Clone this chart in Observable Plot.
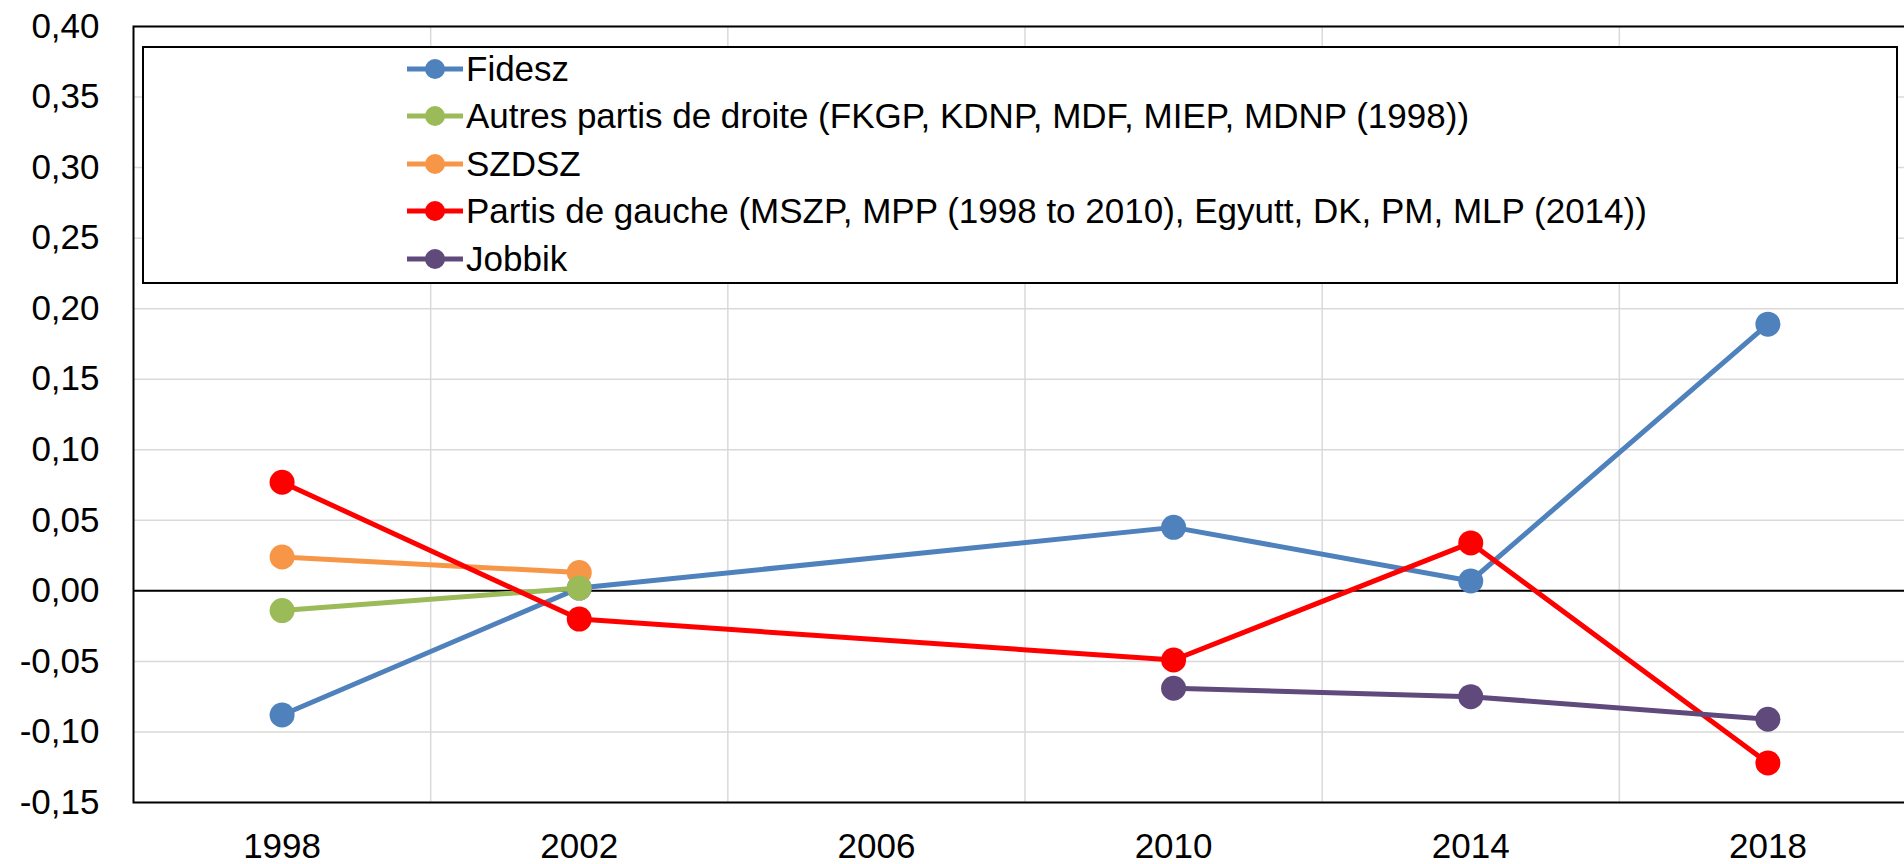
<!DOCTYPE html>
<html><head><meta charset="utf-8">
<script src="https://cdn.jsdelivr.net/npm/d3@7"></script>
<script src="https://cdn.jsdelivr.net/npm/@observablehq/plot@0.6"></script>
<style>
html,body{margin:0;background:#fff;overflow:hidden;font-family:"Liberation Sans",Arial,sans-serif;}
#wrap{position:relative;width:1904px;height:864px;overflow:hidden;}
#chart{width:1917px;}
#chart svg{max-width:none !important;width:1917px !important;height:864px !important;}
#legend{position:absolute;left:142px;top:46px;width:1752px;height:234px;border:2px solid #000;background:#fff;box-sizing:content-box;}
.row{position:absolute;left:263px;height:40px;display:flex;align-items:center;font-size:35px;color:#000;white-space:nowrap;}
.row span{margin-left:3px;}
</style>
</head><body>
<div id="wrap"><div id="chart"></div><div id="legend"></div></div>
<script>
// Series names (legend order) and colours
const seriesNames = [
  "Fidesz",
  "Autres partis de droite (FKGP, KDNP, MDF, MIEP, MDNP (1998))",
  "SZDSZ",
  "Partis de gauche (MSZP, MPP (1998 to 2010), Egyutt, DK, PM, MLP (2014))",
  "Jobbik"
];
const seriesColors = ["#4F81BD", "#9BBB59", "#F79646", "#FF0000", "#604A7B"];

// Values per series
const fideszYears = [1998, 2002, 2010, 2014, 2018];
const fideszValues = [-0.088, 0.002, 0.045, 0.007, 0.189];
const autresYears = [1998, 2002];
const autresValues = [-0.014, 0.002];
const szdszYears = [1998, 2002];
const szdszValues = [0.024, 0.013];
const gaucheYears = [1998, 2002, 2010, 2014, 2018];
const gaucheValues = [0.077, -0.020, -0.049, 0.034, -0.122];
const jobbikYears = [2010, 2014, 2018];
const jobbikValues = [-0.069, -0.075, -0.091];

// Axis ticks
const xTicks = [1998, 2002, 2006, 2010, 2014, 2018];
const xGrid = [2000, 2004, 2008, 2012, 2016];
const yTicks = [-0.15, -0.10, -0.05, 0.00, 0.05, 0.10, 0.15, 0.20, 0.25, 0.30, 0.35, 0.40];

const seriesData = [
  {name: seriesNames[0], years: fideszYears, values: fideszValues},
  {name: seriesNames[1], years: autresYears, values: autresValues},
  {name: seriesNames[2], years: szdszYears, values: szdszValues},
  {name: seriesNames[3], years: gaucheYears, values: gaucheValues},
  {name: seriesNames[4], years: jobbikYears, values: jobbikValues}
].map(s => ({name: s.name, rows: s.years.map((y, i) => ({year: y, value: s.values[i], series: s.name}))}));

// drawing order (later on top)
const drawOrder = [0, 2, 1, 3, 4];
const seriesMarks = [];
for (const i of drawOrder) {
  const s = seriesData[i];
  seriesMarks.push(Plot.line(s.rows, {x: "year", y: "value", stroke: "series", strokeWidth: 5}));
  seriesMarks.push(Plot.dot(s.rows, {x: "year", y: "value", fill: "series", r: 12.5}));
}

const fmt = d => (d < 0 ? "-" : "") + Math.abs(d).toFixed(2).replace(".", ",");

const chart = Plot.plot({
  width: 1917,
  height: 864,
  marginLeft: 133,
  marginRight: 1,
  marginTop: 26,
  marginBottom: 62,
  style: {fontFamily: '"Liberation Sans", Arial, sans-serif', fontSize: "35px", color: "#000", background: "#fff", maxWidth: "none"},
  x: {domain: [1996, 2020], ticks: xTicks, tickFormat: d => String(d), tickSize: 0, tickPadding: 31, label: null},
  y: {domain: [-0.15, 0.40], ticks: yTicks, tickFormat: fmt, tickSize: 0, tickPadding: 34, label: null},
  color: {domain: seriesNames, range: seriesColors},
  marks: [
    Plot.ruleY(yTicks, {stroke: "#d9d9d9", strokeWidth: 1.5}),
    Plot.ruleX(xGrid, {stroke: "#d9d9d9", strokeWidth: 1.5}),
    Plot.ruleY([0], {stroke: "#000", strokeWidth: 2}),
    Plot.frame({stroke: "#000", strokeWidth: 2}),
    ...seriesMarks
  ]
});
document.getElementById("chart").appendChild(chart);

// Legend overlay
const legend = document.getElementById("legend");
const rowCenters = [21, 68, 116, 163, 211];
seriesNames.forEach((name, i) => {
  const row = document.createElement("div");
  row.className = "row";
  row.style.top = (rowCenters[i] - 20) + "px";
  row.innerHTML = `<svg width="56" height="40"><line x1="0" x2="56" y1="20" y2="20" stroke="${seriesColors[i]}" stroke-width="5"/><circle cx="28" cy="20" r="10" fill="${seriesColors[i]}"/></svg><span></span>`;
  row.querySelector("span").textContent = name;
  legend.appendChild(row);
});
</script>
</body></html>
